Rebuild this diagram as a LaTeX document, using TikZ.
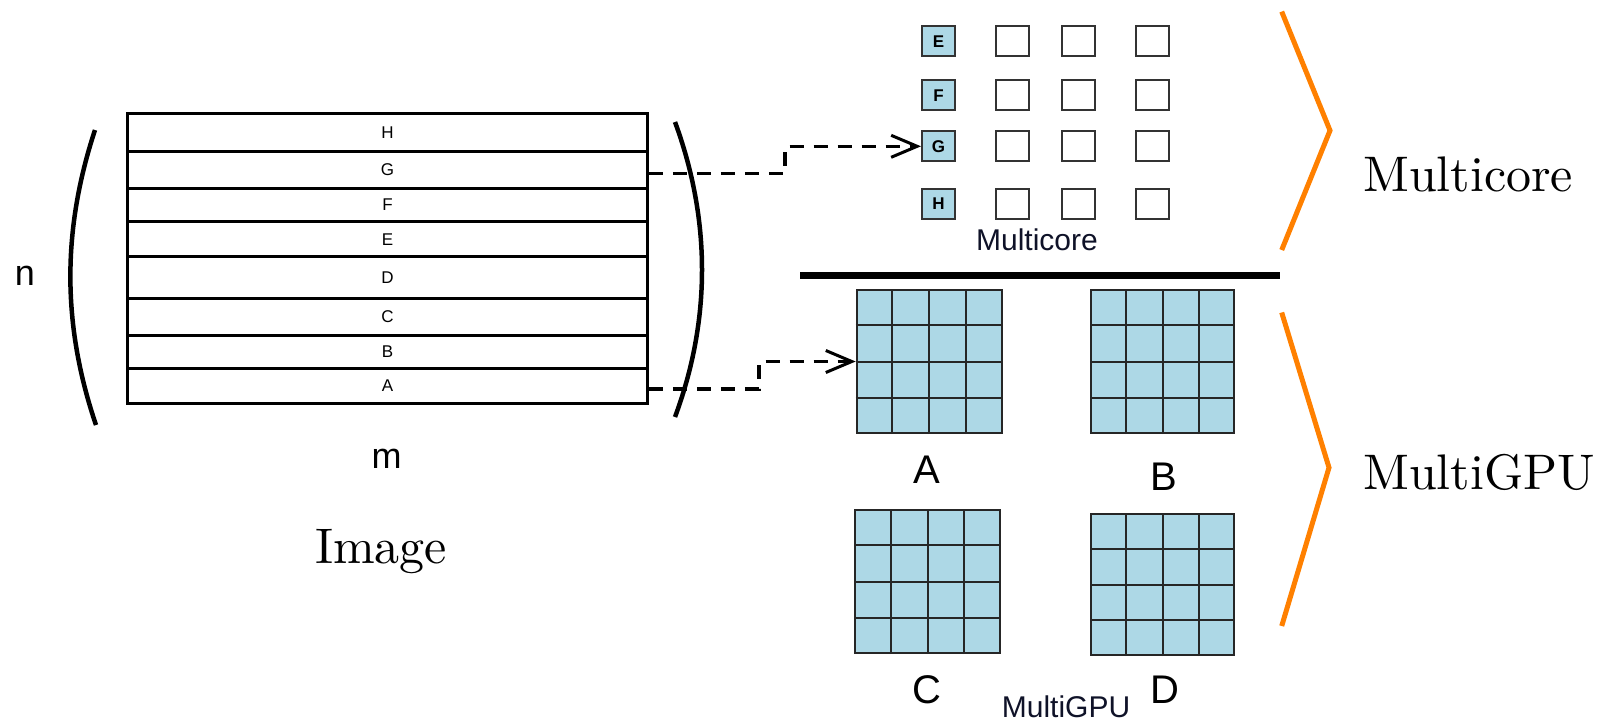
\documentclass[tikz,border=0pt]{standalone}
\usepackage{fontspec}
\newfontfamily\arial{Liberation Sans}
\newfontfamily\lmten[Extension=.otf]{lmroman10-regular}
\usetikzlibrary{arrows.meta,calc}
\definecolor{cellblue}{HTML}{ADD8E6}
\definecolor{chev}{RGB}{255,128,0}
\definecolor{navy}{RGB}{15,18,40}
\begin{document}
\begin{tikzpicture}[x=1pt,y=-1pt,
  rowbox/.style={draw, line width=3pt, minimum width=519.8pt, inner sep=0pt, font=\arial\fontsize{17}{20}\selectfont},
  corebox/.style={draw=black!80, line width=2pt, minimum width=33pt, minimum height=30pt, inner sep=0pt},
  bluecore/.style={corebox, fill=cellblue, font=\arial\bfseries\fontsize{17}{20}\selectfont},
  gpu/.style={draw=black!85, line width=2pt, fill=cellblue, inner sep=0pt},
  gridline/.style={draw=black!85, line width=2pt},
  conn/.style={line width=3.5pt, dash pattern=on 14pt off 10pt, -{Straight Barb[length=26pt,width=22pt,line width=3pt]}},
  bracket/.style={line width=4.5pt},
  chevron/.style={draw=chev, line width=5pt},
  sanslab/.style={font=\arial\fontsize{36}{40}\selectfont, inner sep=0pt},
  gpulab/.style={font=\arial\fontsize{40}{44}\selectfont, inner sep=0pt},
  smalllab/.style={font=\arial\fontsize{30}{34}\selectfont, text=navy, inner sep=0pt},
  seriflab/.style={font=\lmten\fontsize{50}{56}\selectfont, inner sep=0pt}
]
\useasboundingbox (0,0) rectangle (1603,724);

% image rows
\foreach \n/\t/\b in {H/113.3/151, G/151/188.3, F/188.3/221.7, E/221.7/256.7, D/256.7/298.3, C/298.3/335, B/335/368.3, A/368.3/403.3}
  \node[rowbox, minimum height={(\b-\t)*1pt}] (row\n) at (387.5,{(\t+\b)/2}) {\n};

% brackets
\draw[bracket] (95,130) .. controls (62,230) and (62,325) .. (96,425);
\draw[bracket] (675,122) .. controls (711,220) and (711,320) .. (675,417);

\node[sanslab] (nlab) at (25,276) {n};
\node[sanslab] (mlab) at (386.5,459) {m};
\node[seriflab] (imglab) at (381,552) {Image};

% multicore cores
\foreach \n/\y in {E/41.3, F/95.3, G/146.3, H/203.5} {
  \node[bluecore] (core\n) at (938.5,\y) {\n};
  \foreach \x [count=\i] in {1012.5,1078,1152.3}
    \node[corebox] (core\n\i) at (\x,\y) {};
}
\node[smalllab] (mclab) at (1037,240) {Multicore};

% separator
\draw[line width=7pt] (800,275.5) -- (1280,275.5);

% GPU grids
\node[gpu, minimum width=145.3pt, minimum height=143pt] (gA) at (929.3,361.5) {};
\node[gpu, minimum width=143pt, minimum height=143pt] (gB) at (1162.5,361.5) {};
\node[gpu, minimum width=145pt, minimum height=143pt] (gC) at (927.5,581.5) {};
\node[gpu, minimum width=143pt, minimum height=141pt] (gD) at (1162.5,584.5) {};
\foreach \g in {gA,gB,gC,gD}
  \foreach \f in {0.25,0.5,0.75} {
    \draw[gridline] ($(\g.south west)!\f!(\g.south east)$) -- ($(\g.north west)!\f!(\g.north east)$);
    \draw[gridline] ($(\g.south west)!\f!(\g.north west)$) -- ($(\g.south east)!\f!(\g.north east)$);
  }
\node[gpulab] (labA) at (926.7,470) {A};
\node[gpulab] (labB) at (1164,476.7) {B};
\node[gpulab] (labC) at (926.7,690) {C};
\node[gpulab] (labD) at (1165,690) {D};
\node[smalllab] (mglab) at (1066,707) {MultiGPU};

% connectors
\draw[conn] ([yshift=-4pt]rowG.east) -- ++(136,0) |- (coreG.west);
\draw[conn] ([yshift=-3pt]rowA.east) -- ++(110,0) |- (gA.west);

% chevrons
\draw[chevron] (1281.7,11.6) -- (1330,130.5) -- (1281.7,250);
\draw[chevron] (1281.7,312.5) -- (1329,467.6) -- (1281.7,626);
\node[seriflab, anchor=west] (mcser) at (1363,174) {Multicore};
\node[seriflab, anchor=west] (mgser) at (1363,472) {MultiGPU};
\end{tikzpicture}
\end{document}
